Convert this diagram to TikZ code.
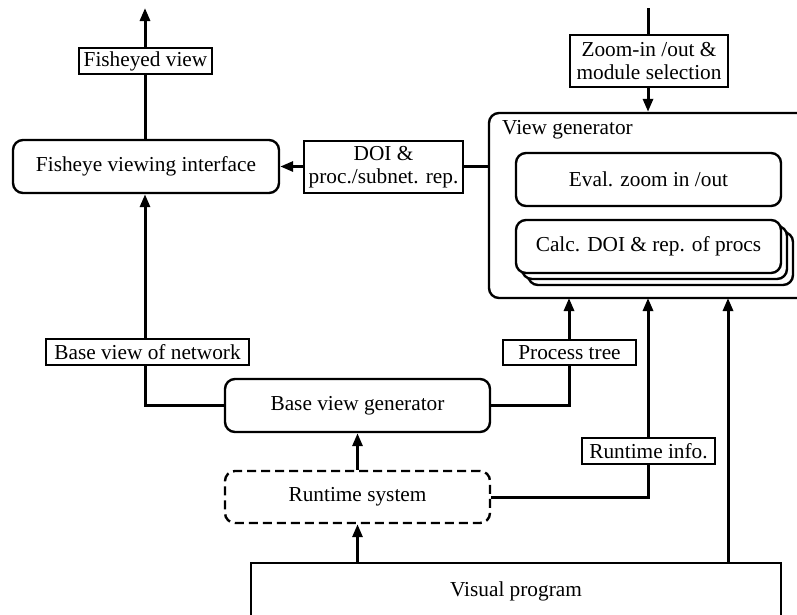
\documentclass[tikz,border=0pt]{standalone}
\usepackage{fontspec}
\setmainfont{Liberation Serif}
\usetikzlibrary{arrows.meta}
\begin{document}
\begin{tikzpicture}[x=1pt,y=-1pt,
  every node/.style={font=\fontsize{21.3}{23}\selectfont, align=center},
  block/.style={draw, line width=2.4pt, rounded corners=10pt, fill=white,
                minimum width=265pt, minimum height=53pt, inner sep=0pt},
  tag/.style={draw, line width=1.1pt, fill=white, inner sep=0pt},
  conn/.style={line width=3pt, -{Triangle[length=13pt,width=10pt]}},
  link/.style={line width=3pt}]
\path[use as bounding box, clip] (0,0) rectangle (797,614);

% view generator container and its parts
\node[block, minimum width=326pt, minimum height=185pt] (vg) at (652,205.5) {};
\node[anchor=west, inner sep=0pt] (vgtitle) at (502,130) {View generator};
\node[block] (eval) at (648.5,179.5) {Eval. zoom in /out};
\node[block] (calcB) at (660.5,258.5) {};
\node[block] (calcA) at (654.5,252.5) {};
\node[block] (calc) at (648.5,246.5) {Calc. DOI \& rep. of procs};

% other processing blocks
\node[block, minimum width=266pt] (fish) at (146,166.5) {Fisheye viewing interface};
\node[block] (bvg) at (357.5,405.5) {Base view generator};
\node[block, dashed, dash pattern=on 9pt off 5pt, minimum height=52pt] (rts) at (357.5,497) {Runtime system};
\node[draw, line width=2.4pt, fill=white, minimum width=530pt, minimum height=57pt, inner sep=0pt] (vp) at (516,591.5) {Visual program};

% free ends and entry points
\coordinate (ftop) at (145,8);
\coordinate (ztop) at (648,8);
\coordinate (vin1) at (569,298);
\coordinate (vin2) at (648,298);
\coordinate (vin3) at (728,298);

% connectors
\draw[conn] (fish.north -| ftop) -- (ftop);
\draw[conn] (ztop) -- (ztop |- vg.north);
\draw[conn] (fish.east -| vg.west) -- (fish.east);
\draw[conn] (bvg.west) -| (fish.south -| ftop);
\draw[conn] (bvg.east) -| (vin1);
\draw[conn] (rts.east) -| (vin2);
\draw[conn] (vp.north -| vin3) -- (vin3);
\draw[conn] (rts.north) -- (bvg.south);
\draw[conn] (vp.north -| rts) -- (rts.south);

% data labels on the connectors
\node[tag, minimum width=133pt, minimum height=26pt] (fvlbl) at (145.5,61) {Fisheyed view};
\node[tag, minimum width=158pt, minimum height=52pt] (zlbl) at (649,61) {Zoom-in /out \&\\module selection};
\node[tag, minimum width=159pt, minimum height=52pt] (doilbl) at (383.5,167) {DOI \&\\proc./subnet. rep.};
\node[tag, minimum width=203pt, minimum height=26pt] (bvnlbl) at (147.5,352) {Base view of network};
\node[tag, minimum width=133pt, minimum height=25pt] (ptlbl) at (569.5,352.5) {Process tree};
\node[tag, minimum width=133pt, minimum height=26pt] (rilbl) at (648.5,451) {Runtime info.};
\end{tikzpicture}
\end{document}
